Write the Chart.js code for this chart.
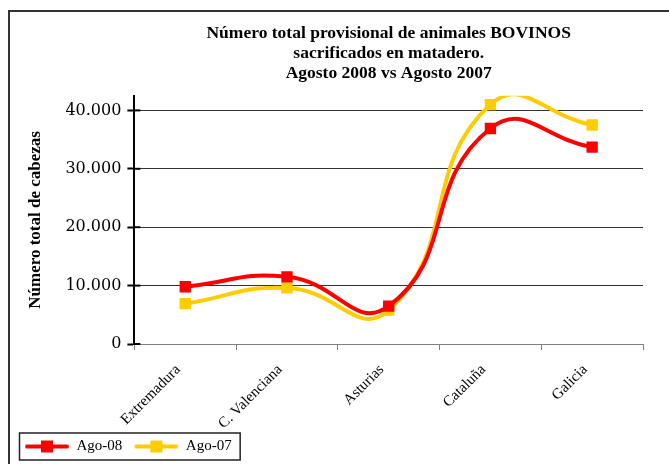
<!DOCTYPE html>
<html>
<head>
<meta charset="utf-8">
<script src="https://cdn.jsdelivr.net/npm/chart.js@4"></script>
<style>
  body { margin: 0; overflow: hidden; background: #fff; }
  #wrap { position: relative; width: 669px; height: 464px; overflow: hidden; }
  #marco { position: absolute; left: 8px; top: 10px; width: 700px; height: 500px; border: 2px solid #333; box-sizing: border-box; }
  canvas { position: absolute; left: 0; top: 0; }
</style>
</head>
<body>
<div id="wrap">
  <div id="marco"></div>
  <canvas id="grafico" width="669" height="464"></canvas>
</div>
<script>
/* ===== datos ===== */
const categorias = ["Extremadura", "C. Valenciana", "Asturias", "Cataluña", "Galicia"];
const ago08 = [9800, 11500, 6500, 36900, 33700];
const ago07 = [6900, 9600, 5800, 41000, 37500];
const marcasY = [0, 10000, 20000, 30000, 40000];

const ROJO = "#ff0000";
const AMARILLO = "#ffcc00";

// icono de leyenda: linea con cuadrado en medio (margen izquierdo = hueco entre elementos)
function iconoLeyenda(color) {
    const c = document.createElement("canvas");
    c.width = 52; c.height = 14;
    const g = c.getContext("2d");
    g.strokeStyle = color;
    g.lineWidth = 4;
    g.lineCap = "round";
    g.beginPath();
    g.moveTo(10, 7); g.lineTo(50, 7);
    g.stroke();
    g.fillStyle = color;
    g.fillRect(24, 1, 12, 12);
    return c;
}

function formatoMiles(v) {
    return String(v).replace(/\B(?=(\d{3})+(?!\d))/g, ".");
}

// marco de la leyenda y marcas cruzadas del eje Y
const extras = {
    id: "extras",
    afterDraw(chart) {
        const ctx = chart.ctx;
        const cajas = chart.legend.legendHitBoxes;
        if (cajas && cajas.length) {
            const izq = cajas[0].left + 2;
            let der = 0;
            cajas.forEach(b => { der = Math.max(der, b.left + b.width); });
            ctx.save();
            ctx.strokeStyle = "#222";
            ctx.lineWidth = 1.5;
            ctx.strokeRect(izq + 0.5, cajas[0].top - 6, der - izq + 8, cajas[0].height + 12);
            ctx.restore();
        }
        const y = chart.scales.y;
        ctx.save();
        ctx.strokeStyle = "#000";
        ctx.lineWidth = 2;
        marcasY.forEach(v => {
            const py = y.getPixelForValue(v);
            ctx.beginPath();
            ctx.moveTo(y.right, py);
            ctx.lineTo(y.right + 6, py);
            ctx.stroke();
        });
        ctx.restore();
    }
};

const ctx = document.getElementById("grafico").getContext("2d");
const grafico = new Chart(ctx, {
    type: "line",
    data: {
        labels: categorias,
        datasets: [
            {
                label: "Ago-08",
                data: ago08,
                borderColor: ROJO,
                backgroundColor: ROJO,
                borderWidth: 4,
                pointStyle: "rect",
                pointRadius: 8,
                pointBorderWidth: 0,
                tension: 0.5,
                capBezierPoints: false
            },
            {
                label: "Ago-07",
                data: ago07,
                borderColor: AMARILLO,
                backgroundColor: AMARILLO,
                borderWidth: 4,
                pointStyle: "rect",
                pointRadius: 8,
                pointBorderWidth: 0,
                tension: 0.5,
                capBezierPoints: false
            }
        ]
    },
    options: {
        responsive: false,
        animation: false,
        devicePixelRatio: 1,
        layout: { padding: { left: 13, right: 26, top: 24, bottom: 0 } },
        plugins: {
            title: {
                display: true,
                fullSize: false,
                text: ["Número total provisional de animales BOVINOS", "sacrificados en matadero.", "Agosto 2008 vs Agosto 2007"],
                color: "#000",
                font: { family: "Liberation Serif", size: 17.5, weight: "bold", lineHeight: 1.12 },
                padding: { top: 0, bottom: 13 }
            },
            legend: {
                position: "bottom",
                align: "start",
                labels: {
                    usePointStyle: true,
                    pointStyleWidth: 52,
                    color: "#000",
                    font: { family: "Liberation Serif", size: 15 },
                    padding: 4,
                    generateLabels(chart) {
                        const items = Chart.defaults.plugins.legend.labels.generateLabels(chart);
                        items.forEach((it, i) => {
                            it.pointStyle = iconoLeyenda(i === 0 ? ROJO : AMARILLO);
                        });
                        return items;
                    }
                }
            },
            tooltip: { enabled: false }
        },
        scales: {
            x: {
                offset: true,
                afterFit(scale) {
                    scale.height = 91;
                },
                grid: { display: true, offset: true, drawOnChartArea: false, drawTicks: true, tickLength: 6, color: "#808080" },
                border: { color: "#808080", width: 1 },
                ticks: {
                    color: "#000",
                    minRotation: 45,
                    maxRotation: 45,
                    padding: 11,
                    labelOffset: -7,
                    font: { family: "Liberation Serif", size: 15 }
                }
            },
            y: {
                min: 0,
                max: 42500,
                afterBuildTicks(axis) {
                    axis.ticks = marcasY.map(v => ({ value: v }));
                },
                grid: { color: "#333", lineWidth: 1, tickLength: 7, tickColor: "#000", tickWidth: 2 },
                border: { color: "#000", width: 2 },
                ticks: {
                    color: "#000",
                    padding: 6,
                    font: { family: "DejaVu Serif", size: 16 },
                    callback: v => formatoMiles(v)
                },
                title: {
                    display: true,
                    text: "Número total de cabezas",
                    color: "#000",
                    font: { family: "Liberation Serif", size: 17, weight: "bold" },
                    padding: { top: 12, bottom: 14 }
                }
            }
        }
    },
    plugins: [extras]
});
</script>
</body>
</html>
